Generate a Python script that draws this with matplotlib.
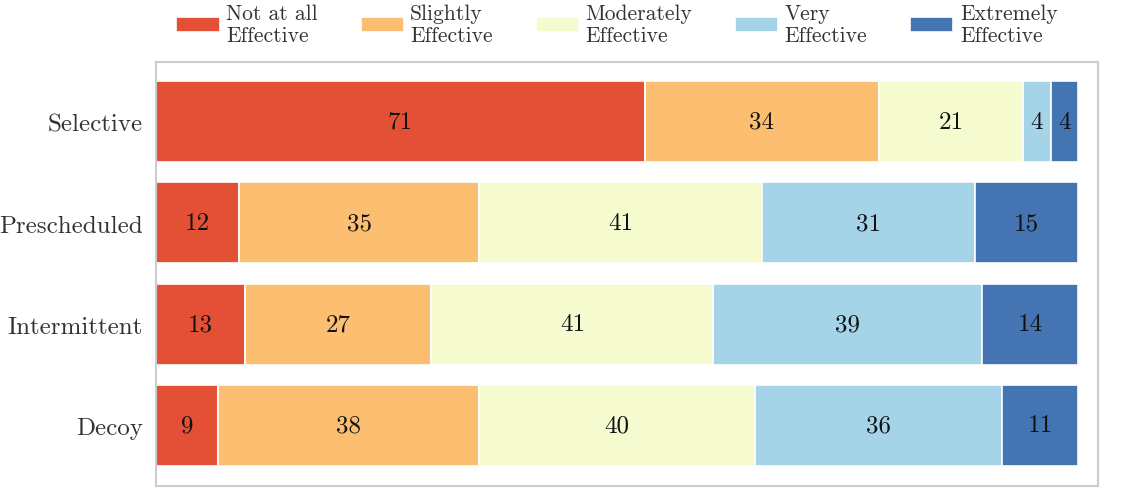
import matplotlib
matplotlib.use("Agg")
import matplotlib.pyplot as plt
import numpy as np

plt.rcParams["font.family"] = "serif"
plt.rcParams["font.serif"] = ["cmr10"]
plt.rcParams["axes.formatter.use_mathtext"] = True

methods = ["Selective", "Prescheduled", "Intermittent", "Decoy"]
levels = ["Not at all\nEffective", "Slightly\nEffective", "Moderately\nEffective",
          "Very\nEffective", "Extremely\nEffective"]
not_at_all = [71, 12, 13, 9]
slightly = [34, 35, 27, 38]
moderately = [21, 41, 41, 40]
very = [4, 31, 39, 36]
extremely = [4, 15, 14, 11]
COLORS = ["#e45036", "#fcbf72", "#f5fbcf", "#a5d3e7", "#4474b2"]

series = [not_at_all, slightly, moderately, very, extremely]

fig = plt.figure(figsize=(11.27, 4.89), dpi=100)
ax = fig.add_axes([0.1384, 0.004, 0.836, 0.867])

y = np.arange(len(methods))
left = np.zeros(len(methods))
for vals, lab, col in zip(series, levels, COLORS):
    bars = ax.barh(y, vals, left=left, height=0.8, color=col, label=lab,
                   edgecolor="white", linewidth=1.2)
    for b, v in zip(bars, vals):
        ax.text(b.get_x() + b.get_width() / 2, b.get_y() + b.get_height() / 2,
                str(v), ha="center", va="center", fontsize=18, color="#111111")
    left += np.array(vals)

ax.set_xlim(0, 136.9)
ax.set_ylim(3.6, -0.59)
ax.set_yticks(y)
ax.set_yticklabels(methods, fontsize=18, color="#333333")
ax.set_xticks([])
ax.tick_params(axis="y", length=0, pad=9.5)
for s in ax.spines.values():
    s.set_color("#cccccc")
    s.set_linewidth(1.5)

fig.legend(loc="upper center", bbox_to_anchor=(617 / 1127, 0.994), ncol=5, frameon=False,
           fontsize=15.5, handlelength=2.0, handleheight=0.7, columnspacing=2.0,
           handletextpad=0.3, labelcolor="#333333", borderaxespad=0, borderpad=0.05)

fig.savefig("out.png", dpi=100)
